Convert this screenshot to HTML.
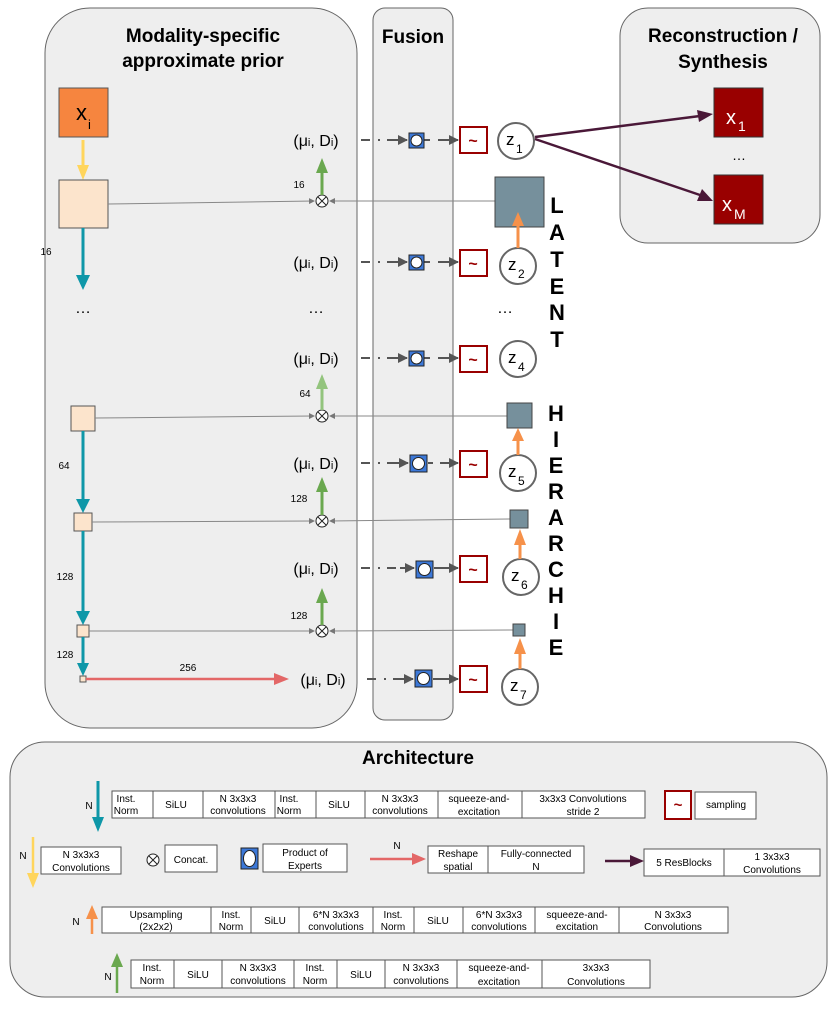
<!DOCTYPE html>
<html><head><meta charset="utf-8"><style>
html,body{margin:0;padding:0;background:#fff}
svg{display:block;font-family:"Liberation Sans",Arial,sans-serif}
.t{font-size:10px;text-anchor:middle}
.b{fill:#fff;stroke:#555;stroke-width:1}
.mu{font-size:16px;text-anchor:middle}
.lt{font-size:22px;font-weight:bold;text-anchor:middle}
</style></head><body>
<svg width="830" height="1015" viewBox="0 0 830 1015" xmlns="http://www.w3.org/2000/svg">
<defs>
<marker id="ag" markerWidth="10" markerHeight="10" refX="9" refY="5" orient="auto" markerUnits="userSpaceOnUse"><path d="M0,0 L10,5 L0,10z" fill="#555"/></marker>
<marker id="as" markerWidth="6" markerHeight="6" refX="5" refY="3" orient="auto" markerUnits="userSpaceOnUse"><path d="M0,0 L6,3 L0,6z" fill="#777"/></marker>
<marker id="ateal" markerWidth="12" markerHeight="14" refX="6" refY="13" orient="auto-start-reverse" markerUnits="userSpaceOnUse"><path d="M0,0 L12,0 L6,14z" fill="#0E97A8" transform="rotate(0)"/></marker>
</defs>
<!-- panels -->
<rect x="45" y="8" width="312" height="720" rx="45" fill="#eeeeee" stroke="#666"/>
<rect x="373" y="8" width="80" height="712" rx="12" fill="#eeeeee" stroke="#666"/>
<rect x="620" y="8" width="200" height="235" rx="28" fill="#eeeeee" stroke="#666"/>
<text x="203" y="42" font-size="19" font-weight="bold" text-anchor="middle">Modality-specific</text>
<text x="203" y="67" font-size="19" font-weight="bold" text-anchor="middle">approximate prior</text>
<text x="413" y="43" font-size="19" font-weight="bold" text-anchor="middle">Fusion</text>
<text x="723" y="42" font-size="19" font-weight="bold" text-anchor="middle">Reconstruction /</text>
<text x="723" y="68" font-size="19" font-weight="bold" text-anchor="middle">Synthesis</text>

<!-- left column -->
<rect x="59" y="88" width="49" height="49" fill="#F6853F" stroke="#555"/>
<text x="76" y="120" font-size="22">x</text><text x="88" y="129" font-size="13">i</text>
<line x1="83" y1="140" x2="83" y2="166" stroke="#FFD55C" stroke-width="3"/>
<path d="M77,165 L89,165 L83,180z" fill="#FFD55C"/>
<rect x="59" y="180" width="49" height="48" fill="#FCE4CC" stroke="#555"/>
<line x1="83" y1="228" x2="83" y2="276" stroke="#0E97A8" stroke-width="3"/>
<path d="M76,275 L90,275 L83,290z" fill="#0E97A8"/>
<text x="46" y="255" font-size="10" text-anchor="middle">16</text>
<text x="83" y="313" font-size="16" text-anchor="middle">…</text>

<rect x="71" y="406" width="24" height="25" fill="#FCE4CC" stroke="#555"/>
<line x1="83" y1="431" x2="83" y2="500" stroke="#0E97A8" stroke-width="3"/>
<path d="M76,499 L90,499 L83,513z" fill="#0E97A8"/>
<text x="64" y="469" font-size="10" text-anchor="middle">64</text>
<rect x="74" y="513" width="18" height="18" fill="#FCE4CC" stroke="#555"/>
<line x1="83" y1="531" x2="83" y2="612" stroke="#0E97A8" stroke-width="3"/>
<path d="M76,611 L90,611 L83,625z" fill="#0E97A8"/>
<text x="65" y="580" font-size="10" text-anchor="middle">128</text>
<rect x="77" y="625" width="12" height="12" fill="#FCE4CC" stroke="#555"/>
<line x1="83" y1="637" x2="83" y2="664" stroke="#0E97A8" stroke-width="3"/>
<path d="M77,663 L89,663 L83,676z" fill="#0E97A8"/>
<text x="65" y="658" font-size="10" text-anchor="middle">128</text>
<rect x="80" y="676" width="6" height="6" fill="#FCE4CC" stroke="#555"/>
<line x1="86" y1="679" x2="276" y2="679" stroke="#E36767" stroke-width="2.5"/>
<path d="M274,673 L289,679 L274,685z" fill="#E36767"/>
<text x="188" y="671" font-size="10" text-anchor="middle">256</text>

<!-- horizontal gray lines -->
<g stroke="#888" stroke-width="1" fill="none">
<line x1="108" y1="204" x2="314" y2="201" marker-end="url(#as)"/>
<line x1="495" y1="201" x2="330" y2="201" marker-end="url(#as)"/>
<line x1="95" y1="418" x2="314" y2="416" marker-end="url(#as)"/>
<line x1="507" y1="416" x2="330" y2="416" marker-end="url(#as)"/>
<line x1="92" y1="522" x2="314" y2="521" marker-end="url(#as)"/>
<line x1="510" y1="519" x2="330" y2="521" marker-end="url(#as)"/>
<line x1="89" y1="631" x2="314" y2="631" marker-end="url(#as)"/>
<line x1="513" y1="630" x2="330" y2="631" marker-end="url(#as)"/>
</g>
<!-- otimes -->
<g stroke="#222" stroke-width="1" fill="#fff">
<circle cx="322" cy="201" r="6"/><path d="M318,197 L326,205 M326,197 L318,205"/>
<circle cx="322" cy="416" r="6"/><path d="M318,412 L326,420 M326,412 L318,420"/>
<circle cx="322" cy="521" r="6"/><path d="M318,517 L326,525 M326,517 L318,525"/>
<circle cx="322" cy="631" r="6"/><path d="M318,627 L326,635 M326,627 L318,635"/>
</g>
<!-- green arrows -->
<line x1="322" y1="195" x2="322" y2="172" stroke="#6AA84F" stroke-width="3"/><path d="M316,173 L328,173 L322,158z" fill="#6AA84F"/>
<line x1="322" y1="410" x2="322" y2="388" stroke="#93C47D" stroke-width="3"/><path d="M316,389 L328,389 L322,374z" fill="#93C47D"/>
<line x1="322" y1="515" x2="322" y2="491" stroke="#6AA84F" stroke-width="3"/><path d="M316,492 L328,492 L322,477z" fill="#6AA84F"/>
<line x1="322" y1="625" x2="322" y2="602" stroke="#6AA84F" stroke-width="3"/><path d="M316,603 L328,603 L322,588z" fill="#6AA84F"/>
<text x="299" y="188" font-size="10" text-anchor="middle">16</text>
<text x="305" y="397" font-size="10" text-anchor="middle">64</text>
<text x="299" y="502" font-size="10" text-anchor="middle">128</text>
<text x="299" y="619" font-size="10" text-anchor="middle">128</text>

<!-- mu labels -->
<text class="mu" x="316" y="146">(μ<tspan font-size="11">i</tspan>, D<tspan font-size="11">i</tspan>)</text>
<text class="mu" x="316" y="268">(μ<tspan font-size="11">i</tspan>, D<tspan font-size="11">i</tspan>)</text>
<text class="mu" x="316" y="313">…</text>
<text class="mu" x="316" y="364">(μ<tspan font-size="11">i</tspan>, D<tspan font-size="11">i</tspan>)</text>
<text class="mu" x="316" y="469">(μ<tspan font-size="11">i</tspan>, D<tspan font-size="11">i</tspan>)</text>
<text class="mu" x="316" y="574">(μ<tspan font-size="11">i</tspan>, D<tspan font-size="11">i</tspan>)</text>
<text class="mu" x="323" y="685">(μ<tspan font-size="11">i</tspan>, D<tspan font-size="11">i</tspan>)</text>
<text class="mu" x="505" y="313">…</text>

<!-- fusion rows -->
<g stroke="#555" stroke-width="2" fill="none">
<path d="M361,140 H370 M378,140 H380 M387,140 H407" stroke-dasharray="none" marker-end="url(#ag)"/>
<path d="M423,140 H430 M438,140 H458" marker-end="url(#ag)"/>
<path d="M361,262 H370 M378,262 H380 M387,262 H407" marker-end="url(#ag)"/>
<path d="M423,262 H430 M438,262 H458" marker-end="url(#ag)"/>
<path d="M361,358 H370 M378,358 H380 M387,358 H407" marker-end="url(#ag)"/>
<path d="M423,358 H430 M438,358 H458" marker-end="url(#ag)"/>
<path d="M361,463 H370 M378,463 H380 M387,463 H408" marker-end="url(#ag)"/>
<path d="M428,463 H433 M440,463 H458" marker-end="url(#ag)"/>
<path d="M361,568 H370 M378,568 H380 M387,568 H396 M400,568 H414" marker-end="url(#ag)"/>
<path d="M434,568 H458" marker-end="url(#ag)"/>
<path d="M367,679 H376 M384,679 H386 M393,679 H413" marker-end="url(#ag)"/>
<path d="M433,679 H458" marker-end="url(#ag)"/>
</g>
<g stroke="#222" stroke-width="1">
<rect x="409" y="133" width="15" height="15" fill="#3C78D8"/><circle cx="416.5" cy="140.5" r="5.5" fill="#fff"/>
<rect x="409" y="255" width="15" height="15" fill="#3C78D8"/><circle cx="416.5" cy="262.5" r="5.5" fill="#fff"/>
<rect x="409" y="351" width="15" height="15" fill="#3C78D8"/><circle cx="416.5" cy="358.5" r="5.5" fill="#fff"/>
<rect x="410" y="455" width="17" height="17" fill="#3C78D8"/><circle cx="418.5" cy="463.5" r="6" fill="#fff"/>
<rect x="416" y="561" width="17" height="17" fill="#3C78D8"/><circle cx="424.5" cy="569.5" r="6" fill="#fff"/>
<rect x="415" y="670" width="17" height="17" fill="#3C78D8"/><circle cx="423.5" cy="678.5" r="6" fill="#fff"/>
</g>
<g stroke="#990000" stroke-width="2" fill="#fff">
<rect x="460" y="127" width="27" height="26"/>
<rect x="460" y="250" width="27" height="26"/>
<rect x="460" y="346" width="27" height="26"/>
<rect x="460" y="451" width="27" height="26"/>
<rect x="460" y="556" width="27" height="26"/>
<rect x="460" y="666" width="27" height="26"/>
</g>
<g fill="#990000" font-size="16" font-weight="bold" text-anchor="middle">
<text x="473" y="146">~</text><text x="473" y="269">~</text><text x="473" y="365">~</text>
<text x="473" y="470">~</text><text x="473" y="575">~</text><text x="473" y="685">~</text>
</g>
<!-- z circles -->
<g stroke="#666" stroke-width="2" fill="#fff">
<circle cx="516" cy="141" r="18"/><circle cx="518" cy="266" r="18"/><circle cx="518" cy="359" r="18"/>
<circle cx="518" cy="473" r="18"/><circle cx="521" cy="577" r="18"/><circle cx="520" cy="687" r="18"/>
</g>
<g font-size="17">
<text x="506" y="145">z</text><text x="516" y="153" font-size="12">1</text>
<text x="508" y="270">z</text><text x="518" y="278" font-size="12">2</text>
<text x="508" y="363">z</text><text x="518" y="371" font-size="12">4</text>
<text x="508" y="477">z</text><text x="518" y="485" font-size="12">5</text>
<text x="511" y="581">z</text><text x="521" y="589" font-size="12">6</text>
<text x="510" y="691">z</text><text x="520" y="699" font-size="12">7</text>
</g>
<!-- latent boxes -->
<g fill="#76909C" stroke="#444">
<rect x="495" y="177" width="49" height="50"/>
<rect x="507" y="403" width="25" height="25"/>
<rect x="510" y="510" width="18" height="18"/>
<rect x="513" y="624" width="12" height="12"/>
</g>
<g stroke="#F6914A" stroke-width="3">
<line x1="518" y1="248" x2="518" y2="224"/><line x1="518" y1="455" x2="518" y2="439"/>
<line x1="520" y1="559" x2="520" y2="543"/><line x1="520" y1="669" x2="520" y2="652"/>
</g>
<g fill="#F6914A">
<path d="M512,226 L524,226 L518,212z"/><path d="M512,441 L524,441 L518,428z"/>
<path d="M514,545 L526,545 L520,529z"/><path d="M514,654 L526,654 L520,638z"/>
</g>
<!-- letters -->
<g class="lt">
<text x="557" y="213" class="lt">L</text><text x="557" y="240" class="lt">A</text><text x="557" y="267" class="lt">T</text>
<text x="557" y="294" class="lt">E</text><text x="557" y="320" class="lt">N</text><text x="557" y="347" class="lt">T</text>
<text x="556" y="421" class="lt">H</text><text x="556" y="447" class="lt">I</text><text x="556" y="473" class="lt">E</text>
<text x="556" y="499" class="lt">R</text><text x="556" y="525" class="lt">A</text><text x="556" y="551" class="lt">R</text>
<text x="556" y="577" class="lt">C</text><text x="556" y="603" class="lt">H</text><text x="556" y="629" class="lt">I</text>
<text x="556" y="655" class="lt">E</text>
</g>
<!-- recon -->
<rect x="714" y="88" width="49" height="49" fill="#990000" stroke="#333"/>
<rect x="714" y="175" width="49" height="49" fill="#990000" stroke="#333"/>
<text x="726" y="124" font-size="20" fill="#fff">x</text><text x="738" y="131" font-size="14" fill="#fff">1</text>
<text x="722" y="211" font-size="20" fill="#fff">x</text><text x="734" y="219" font-size="14" fill="#fff">M</text>
<text x="739" y="160" font-size="14" text-anchor="middle">…</text>
<g stroke="#4A1838" stroke-width="2.5"><line x1="535" y1="137" x2="700" y2="116"/><line x1="535" y1="139" x2="700" y2="195"/></g>
<path d="M697,110 L713,114 L699,122z" fill="#4A1838"/>
<path d="M702,189 L713,201 L697,201z" fill="#4A1838"/>

<!-- Architecture -->
<rect x="10" y="742" width="817" height="255" rx="35" fill="#eeeeee" stroke="#666"/>
<text x="418" y="764" font-size="19" font-weight="bold" text-anchor="middle">Architecture</text>
<!-- row1 -->
<line x1="98" y1="781" x2="98" y2="818" stroke="#0E97A8" stroke-width="3"/><path d="M92,817 L104,817 L98,832z" fill="#0E97A8"/>
<text class="t" x="89" y="809">N</text>
<g class="b"><rect x="112" y="791" width="41" height="27"/><rect x="153" y="791" width="50" height="27"/><rect x="203" y="791" width="72" height="27"/><rect x="275" y="791" width="41" height="27"/><rect x="316" y="791" width="49" height="27"/><rect x="365" y="791" width="73" height="27"/><rect x="438" y="791" width="84" height="27"/><rect x="522" y="791" width="123" height="27"/></g>
<text class="t" x="126" y="802">Inst.</text><text class="t" x="126" y="814">Norm</text>
<text class="t" x="176" y="808">SiLU</text>
<text class="t" x="238" y="802">N 3x3x3</text><text class="t" x="238" y="814">convolutions</text>
<text class="t" x="289" y="802">Inst.</text><text class="t" x="289" y="814">Norm</text>
<text class="t" x="339" y="808">SiLU</text>
<text class="t" x="400" y="802">N 3x3x3</text><text class="t" x="400" y="814">convolutions</text>
<text class="t" x="479" y="802">squeeze-and-</text><text class="t" x="479" y="815">excitation</text>
<text class="t" x="583" y="802">3x3x3 Convolutions</text><text class="t" x="583" y="815">stride 2</text>
<rect x="665" y="791" width="26" height="28" fill="#fff" stroke="#990000" stroke-width="2"/>
<text x="678" y="810" font-size="15" font-weight="bold" fill="#990000" text-anchor="middle">~</text>
<rect class="b" x="695" y="792" width="61" height="27"/><text class="t" x="726" y="808">sampling</text>
<!-- row2 -->
<line x1="33" y1="837" x2="33" y2="875" stroke="#FFD55C" stroke-width="2.5"/><path d="M27,873 L39,873 L33,888z" fill="#FFD55C"/>
<text class="t" x="23" y="859">N</text>
<rect class="b" x="41" y="847" width="80" height="27"/><text class="t" x="81" y="858">N 3x3x3</text><text class="t" x="81" y="871">Convolutions</text>
<circle cx="153" cy="860" r="6" fill="#fff" stroke="#222"/><path d="M149,856 L157,864 M157,856 L149,864" stroke="#222"/>
<rect class="b" x="165" y="845" width="52" height="27"/><text class="t" x="191" y="863">Concat.</text>
<rect x="241" y="848" width="17" height="21" fill="#3C78D8" stroke="#222"/><ellipse cx="249.5" cy="858.5" rx="6" ry="8" fill="#fff" stroke="#222"/>
<rect class="b" x="263" y="844" width="84" height="28"/><text class="t" x="305" y="856">Product of</text><text class="t" x="305" y="869">Experts</text>
<line x1="370" y1="859" x2="414" y2="859" stroke="#E36767" stroke-width="2.5"/><path d="M412,853 L426,859 L412,865z" fill="#E36767"/>
<text class="t" x="397" y="849">N</text>
<g class="b"><rect x="428" y="846" width="60" height="27"/><rect x="488" y="846" width="96" height="27"/></g>
<text class="t" x="458" y="857">Reshape</text><text class="t" x="458" y="870">spatial</text>
<text class="t" x="536" y="857">Fully-connected</text><text class="t" x="536" y="870">N</text>
<line x1="605" y1="861" x2="632" y2="861" stroke="#4A1838" stroke-width="2.5"/><path d="M630,855 L644,861 L630,867z" fill="#4A1838"/>
<g class="b"><rect x="644" y="849" width="80" height="27"/><rect x="724" y="849" width="96" height="27"/></g>
<text class="t" x="684" y="866">5 ResBlocks</text>
<text class="t" x="772" y="860">1 3x3x3</text><text class="t" x="772" y="873">Convolutions</text>
<!-- row3 -->
<line x1="92" y1="934" x2="92" y2="918" stroke="#F6914A" stroke-width="2.5"/><path d="M86,919 L98,919 L92,905z" fill="#F6914A"/>
<text class="t" x="76" y="925">N</text>
<g class="b"><rect x="102" y="907" width="109" height="26"/><rect x="211" y="907" width="40" height="26"/><rect x="251" y="907" width="48" height="26"/><rect x="299" y="907" width="74" height="26"/><rect x="373" y="907" width="41" height="26"/><rect x="414" y="907" width="49" height="26"/><rect x="463" y="907" width="72" height="26"/><rect x="535" y="907" width="84" height="26"/><rect x="619" y="907" width="109" height="26"/></g>
<text class="t" x="156" y="918">Upsampling</text><text class="t" x="156" y="930">(2x2x2)</text>
<text class="t" x="231" y="918">Inst.</text><text class="t" x="231" y="930">Norm</text>
<text class="t" x="275" y="924">SiLU</text>
<text class="t" x="336" y="918">6*N 3x3x3</text><text class="t" x="336" y="930">convolutions</text>
<text class="t" x="393" y="918">Inst.</text><text class="t" x="393" y="930">Norm</text>
<text class="t" x="438" y="924">SiLU</text>
<text class="t" x="499" y="918">6*N 3x3x3</text><text class="t" x="499" y="930">convolutions</text>
<text class="t" x="577" y="918">squeeze-and-</text><text class="t" x="577" y="930">excitation</text>
<text class="t" x="673" y="918">N 3x3x3</text><text class="t" x="673" y="930">Convolutions</text>
<!-- row4 -->
<line x1="117" y1="993" x2="117" y2="966" stroke="#6AA84F" stroke-width="2.5"/><path d="M111,967 L123,967 L117,953z" fill="#6AA84F"/>
<text class="t" x="108" y="980">N</text>
<g class="b"><rect x="131" y="960" width="43" height="28"/><rect x="174" y="960" width="48" height="28"/><rect x="222" y="960" width="72" height="28"/><rect x="294" y="960" width="43" height="28"/><rect x="337" y="960" width="48" height="28"/><rect x="385" y="960" width="72" height="28"/><rect x="457" y="960" width="85" height="28"/><rect x="542" y="960" width="108" height="28"/></g>
<text class="t" x="152" y="971">Inst.</text><text class="t" x="152" y="984">Norm</text>
<text class="t" x="198" y="978">SiLU</text>
<text class="t" x="258" y="971">N 3x3x3</text><text class="t" x="258" y="984">convolutions</text>
<text class="t" x="315" y="971">Inst.</text><text class="t" x="315" y="984">Norm</text>
<text class="t" x="361" y="978">SiLU</text>
<text class="t" x="421" y="971">N 3x3x3</text><text class="t" x="421" y="984">convolutions</text>
<text class="t" x="499" y="971">squeeze-and-</text><text class="t" x="499" y="985">excitation</text>
<text class="t" x="596" y="971">3x3x3</text><text class="t" x="596" y="985">Convolutions</text>
</svg>
</body></html>
